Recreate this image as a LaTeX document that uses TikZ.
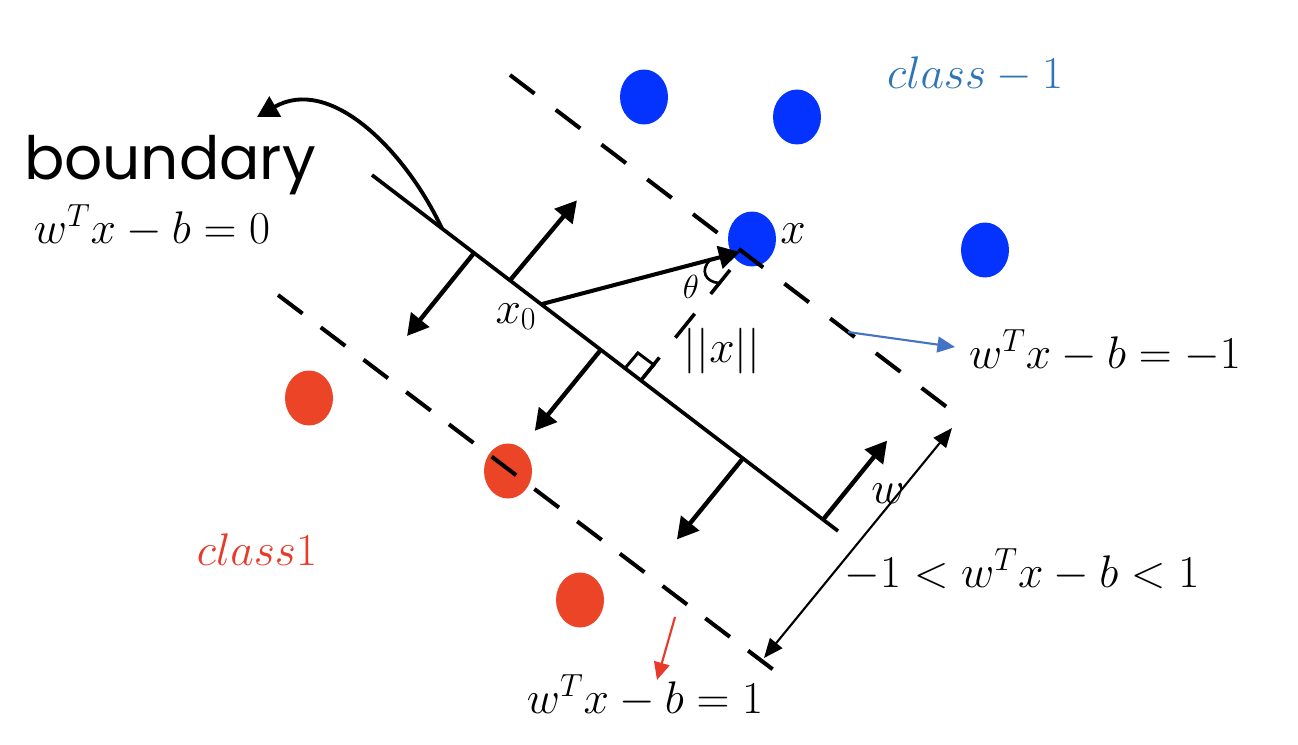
\RequirePackage{fix-cm}
\documentclass[tikz,border=0pt]{standalone}
\usepackage{amsmath}
\usepackage{fontspec}
\usepackage{tikz}
\usepackage{xcolor}
\usetikzlibrary{shapes.geometric, arrows.meta, positioning, calc}
\newfontfamily\handfont{Poppins}
\definecolor{ptblue}{HTML}{0433FF}
\definecolor{ptred}{HTML}{EB4427}
\definecolor{clsblue}{HTML}{2E75B6}
\definecolor{clsred}{HTML}{E8392A}
\definecolor{tipblue}{HTML}{4472C4}
\definecolor{tipred}{HTML}{E8392A}

\begin{document}
\begin{tikzpicture}[x=0.02cm, y=-0.02cm,
  pt/.style={ellipse, inner sep=0pt, minimum width=0.96cm, minimum height=1.1cm},
  margin/.style={line width=2.3pt, dash pattern=on 17.5pt off 14.5pt},
  normal/.style={line width=2.5pt, -{Triangle[length=12pt, width=13pt]}},
  thinarrow/.style={line width=1.2pt, -{Triangle[length=10pt, width=9pt]}},
  lbl/.style={font=\fontsize{26}{30}\selectfont, inner sep=0pt, anchor=base},
]
\useasboundingbox (0,0) rectangle (1298,744);

% data points
\node[pt, fill=ptblue] (b1) at (644,97) {};
\node[pt, fill=ptblue] (b2) at (797,117) {};
\node[pt, fill=ptblue] (bx) at (752,239) {};
\node[pt, fill=ptblue] (b4) at (985,250) {};
\node[pt, fill=ptred] (r1) at (309,398) {};
\node[pt, fill=ptred] (r2) at (508,471) {};
\node[pt, fill=ptred] (r3) at (580,600) {};

% boundary and margins
\coordinate (bL) at (372,175);
\coordinate (bR) at (838,531);
\coordinate (upL) at (510,75);
\coordinate (upR) at (948,408);
\coordinate (loL) at (278,295);
\coordinate (loR) at (775,671);
\draw[line width=2.1pt] (bL) -- (bR);
\draw[margin, dash pattern=on 17.5pt off 15.2pt] (upL) -- (upR);
\draw[margin, dash pattern=on 17.5pt off 13pt] (loL) -- (loR);

% normals
\coordinate (n1) at ($(bL)!0.296!(bR)$);
\coordinate (n1t) at ($(n1)+(67,-80)$);
\coordinate (n2) at ($(bL)!0.968!(bR)$);
\coordinate (n2t) at ($(n2)+(64,-79)$);
\coordinate (s1) at ($(bL)!0.219!(bR)$);
\coordinate (s1t) at ($(s1)+(-67,83)$);
\coordinate (s2) at ($(bL)!0.491!(bR)$);
\coordinate (s2t) at ($(s2)+(-66,81)$);
\coordinate (s3) at ($(bL)!0.796!(bR)$);
\coordinate (s3t) at ($(s3)+(-66,81)$);
\draw[normal] (n1) -- (n1t);
\draw[normal] (n2) -- (n2t);
\draw[normal] (s1) -- (s1t);
\draw[normal] (s2) -- (s2t);
\draw[normal] (s3) -- (s3t);

% x0 to x
\coordinate (x0) at ($(bL)!0.363!(bR)$);
\coordinate (xtip) at (740,252);
\draw[normal, line width=2.3pt] (x0) -- (xtip);
\coordinate (foot) at ($(bL)!0.577!(bR)$);
\coordinate (perp) at (730,270);
\draw[margin, line width=2pt] (perp) -- (foot);
\draw[line width=1.7pt] ($(foot)+(-16,-12)$) -- ++(13,-15.5) -- ++(16,12) -- ++(-13,15.5);
\draw[line width=1.5pt] (710,260) .. controls (700,270) and (705,282) .. (719,283);

% arrow to the boundary word
\coordinate (bcurve) at ($(bL)!0.15!(bR)$);
\coordinate (btip) at (257,117);
\draw[line width=2.2pt, -{Triangle[length=12pt, width=13pt]}] (bcurve) .. controls (405,150) and (330,75) .. (btip);

% labels
\node[font=\handfont\fontsize{34}{40}\selectfont, inner sep=0pt, anchor=base] (bdry) at (170,179) {boundary};
\node[lbl] (eq0) at (152,243) {$w^Tx-b=0$};
\node[lbl] (xlbl) at (793,243) {$x$};
\node[lbl] (x0lbl) at (516,323) {$x_0$};
\node[lbl, font=\fontsize{19}{22}\selectfont] (thlbl) at (691,298) {$\theta$};
\node[lbl] (normlbl) at (722,362) {$||x||$};
\node[lbl] (wlbl) at (888,503) {$w$};
\node[lbl] (eqm1) at (1105,368) {$w^Tx-b=-1$};
\node[lbl] (eqin) at (1022,587) {$-1<w^Tx-b<1$};
\node[lbl] (eqp1) at (645,713) {$w^Tx-b=1$};
\node[lbl, text=clsblue] (cneg) at (975,88) {$class-1$};
\node[lbl, text=clsred] (cpos) at (257,565) {$class1$};

% pointers to the margins
\coordinate (bluefrom) at ($(upL)!0.772!(upR)$);
\coordinate (bluetip) at (955,347);
\draw[thinarrow, tipblue] (bluefrom) -- (bluetip);
\coordinate (redfrom) at (675,617);
\coordinate (redtip) at (657,680);
\draw[thinarrow, tipred] (redfrom) -- (redtip);
\coordinate (dimlo) at (764,658);
\coordinate (dimhi) at (952,428);
\draw[line width=1.2pt, {Triangle[length=11pt, width=9pt]}-{Triangle[length=11pt, width=9pt]}] (dimlo) -- (dimhi);
\end{tikzpicture}
\end{document}
